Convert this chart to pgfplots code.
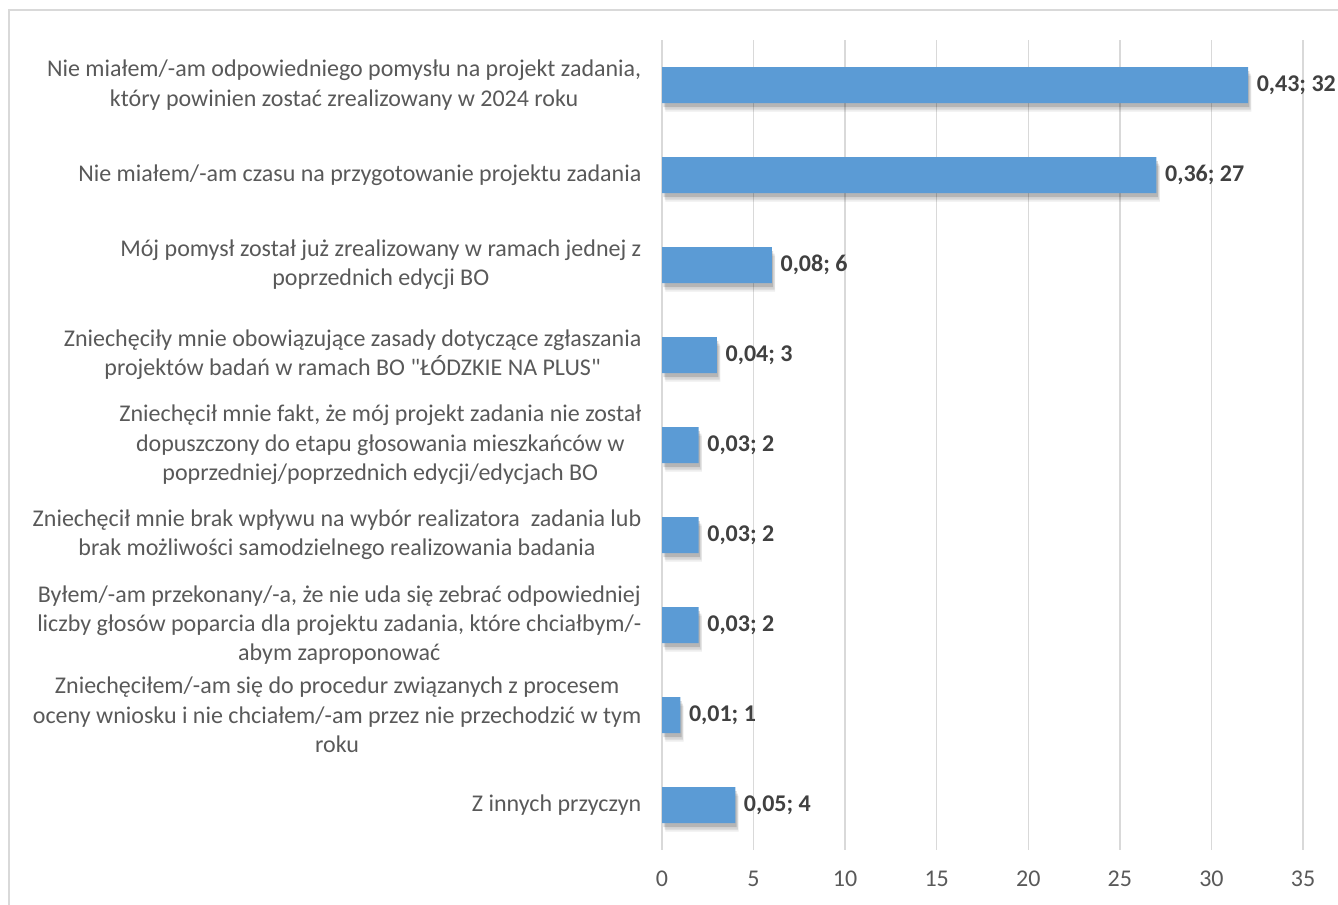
\documentclass[border=0pt]{standalone}
\usepackage{fontspec}
\setmainfont{Carlito}
\usepackage{pgfplots}
\usepackage{pgfplotstable}
\pgfplotsset{compat=1.18}
\usetikzlibrary{shadows}
\definecolor{barblue}{HTML}{5B9BD5}
\definecolor{gridgray}{HTML}{D9D9D9}
\definecolor{txtgray}{HTML}{404040}
\definecolor{tickgray}{HTML}{595959}
% v = count, i = category position, p = share (hundredths)
\pgfplotstableread{
v  i  p
32 0  43
27 1  36
6  2  08
3  3  04
2  4  03
2  5  03
2  6  03
1  7  01
4  8  05
}\answers
\begin{document}
\begin{tikzpicture}
\useasboundingbox (0,0) rectangle (1003.5pt,678.75pt);
% frame of the chart area (only top and left edge are in view)
\draw[gridgray, line width=1pt] (6.75pt,0) -- (6.75pt,671.25pt) -- (1003.5pt,671.25pt);
\begin{axis}[
    at={(496.5pt,41.25pt)}, anchor=south west,
    scale only axis,
    width=480.75pt, height=607.5pt,
    xbar, bar width=27pt,
    xmin=0, xmax=35,
    xtick={0,5,...,35},
    ymin=-0.5, ymax=8.5,
    y dir=reverse,
    ytick={0,...,8},
    yticklabels={
        {Nie miałem/-am odpowiedniego pomysłu na projekt zadania,\\który powinien zostać zrealizowany w 2024 roku},
        {Nie miałem/-am czasu na przygotowanie projektu zadania},
        {Mój pomysł został już zrealizowany w ramach jednej z\\poprzednich edycji BO},
        {Zniechęciły mnie obowiązujące zasady dotyczące zgłaszania\\projektów badań w ramach BO \textquotedbl ŁÓDZKIE NA PLUS\textquotedbl},
        {Zniechęcił mnie fakt, że mój projekt zadania nie został\\dopuszczony do etapu głosowania mieszkańców w\\poprzedniej/poprzednich edycji/edycjach BO},
        {Zniechęcił mnie brak wpływu na wybór realizatora \ zadania lub\\brak możliwości samodzielnego realizowania badania},
        {Byłem/-am przekonany/-a, że nie uda się zebrać odpowiedniej\\liczby głosów poparcia dla projektu zadania, które chciałbym/-\\abym zaproponować},
        {Zniechęciłem/-am się do procedur związanych z procesem\\oceny wniosku i nie chciałem/-am przez nie przechodzić w tym\\roku},
        {Z innych przyczyn}},
    axis line style={draw=none},
    major tick length=0pt,
    xmajorgrids, ymajorgrids=false,
    grid style={gridgray, line width=1pt},
    /pgf/number format/assume math mode=true,
    xticklabel style={font=\fontsize{18}{21}\selectfont, text=tickgray, yshift=-12pt},
    yticklabel style={font=\fontsize{18}{22}\selectfont, text=tickgray, align=center, xshift=-12pt},
]
\addplot[fill=barblue, draw=none,
    drop shadow={shadow xshift=2.5pt, shadow yshift=-6.5pt, fill=black, opacity=0.07},
    drop shadow={shadow xshift=2pt, shadow yshift=-5pt, fill=black, opacity=0.10},
    drop shadow={shadow xshift=1pt, shadow yshift=-3pt, fill=black, opacity=0.15},
    point meta=explicit symbolic,
    visualization depends on={\thisrow{v} \as \cnt},
    nodes near coords={0{,}\pgfplotspointmeta; \pgfmathprintnumber{\cnt}},
    nodes near coords style={font=\fontsize{18}{21}\selectfont\bfseries, text=txtgray, anchor=west, xshift=3pt}]
    table[x=v, y=i, meta=p] {\answers};
\end{axis}
\end{tikzpicture}
\end{document}
